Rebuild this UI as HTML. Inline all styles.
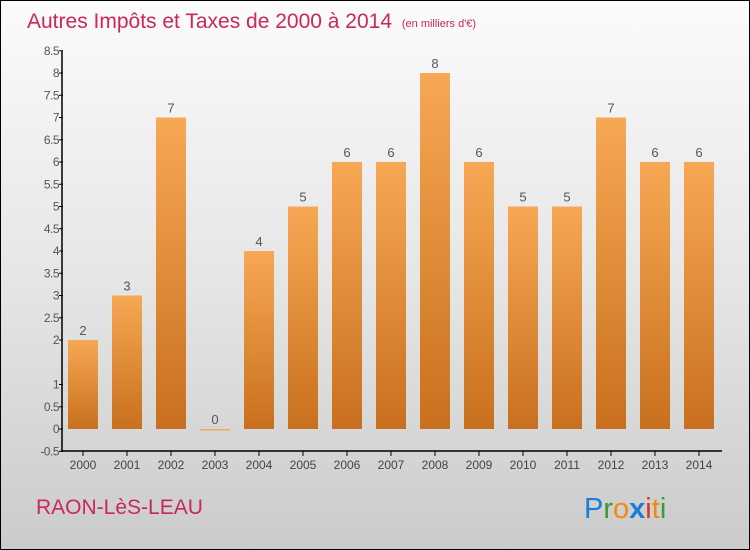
<!DOCTYPE html>
<html><head><meta charset="utf-8"><style>
body{margin:0}
#c{position:relative;width:748px;height:548px;border:1px solid #000;background:linear-gradient(#fbfbfb,#e6e6e6 50%,#cbcbcb);overflow:hidden;font-family:"Liberation Sans",sans-serif}
</style></head><body>
<div id="c">
<svg width="748" height="548">
<defs><linearGradient id="g" x1="0" y1="0" x2="0" y2="1"><stop offset="0" stop-color="#f7a854"/><stop offset="1" stop-color="#c8701e"/></linearGradient></defs>
<text x="26" y="27" font-size="21" fill="#c8285a" font-family="'Liberation Sans',sans-serif">Autres Impôts et Taxes de 2000 à 2014 <tspan font-size="11" dx="4" dy="-1">(en milliers d'€)</tspan></text>
<g id="plot"></g>
<text x="35" y="513" font-size="21" fill="#c8285a" font-family="'Liberation Sans',sans-serif">RAON-LèS-LEAU</text>
<text x="583" y="517" font-size="29" font-family="'Liberation Sans',sans-serif"><tspan fill="#1a7fd4">P</tspan><tspan fill="#3a9a3a">r</tspan><tspan fill="#f08a10">o</tspan><tspan fill="#1a7fd4" font-weight="bold">x</tspan><tspan fill="#e03020">i</tspan><tspan fill="#f08a10">t</tspan><tspan fill="#3a9a3a">i</tspan></text>
</svg>
</div>
<script>
const categories=["2000","2001","2002","2003","2004","2005","2006","2007","2008","2009","2010","2011","2012","2013","2014"];
const values=[2,3,7,0,4,5,6,6,8,6,5,5,7,6,6];
const yTicks=[-0.5,0,0.5,1,2,2.5,3,3.5,4,4.5,5,5.5,6,6.5,7,7.5,8,8.5];
const NS="http://www.w3.org/2000/svg";
const g=document.getElementById('plot');
const y=v=>428-v*44.5;
const x=i=>82+i*44;
function mk(t,a){const e=document.createElementNS(NS,t);for(const k in a)e.setAttribute(k,a[k]);g.appendChild(e);return e;}
values.forEach((v,i)=>{
 const h=Math.max(Math.abs(y(v)-y(0)),1.5);
 const r=mk('rect',{x:x(i)-15,y:Math.min(y(v),y(0)),width:30,height:h,fill:v===0?'#f7a854':'url(#g)'});
 
 
 const t=mk('text',{x:x(i),y:y(v)-5,'font-size':13,fill:'#555','text-anchor':'middle'});t.textContent=values[i];
 
 
 const tk=mk('line',{x1:x(i),x2:x(i),y1:450,y2:455,stroke:'#000'});
 
 
 const c=mk('text',{x:x(i),y:468,'font-size':12,fill:'#444','text-anchor':'middle'});c.textContent=categories[i];
 
 
});
yTicks.forEach(v=>{
 const l=mk('line',{x1:58,x2:62,y1:y(v),y2:y(v),stroke:'#000'});
 
 
 const t=mk('text',{x:58,y:y(v)+4,'font-size':12,fill:'#555','text-anchor':'end','letter-spacing':'-0.5'});t.textContent=v;
 
 
});
const ya=mk('line',{x1:61,x2:61,y1:50,y2:451,stroke:'#000','stroke-width':1.5});


const xa=mk('line',{x1:60,x2:721,y1:450,y2:450,stroke:'#000','stroke-width':1.5});


</script>
</body></html>
